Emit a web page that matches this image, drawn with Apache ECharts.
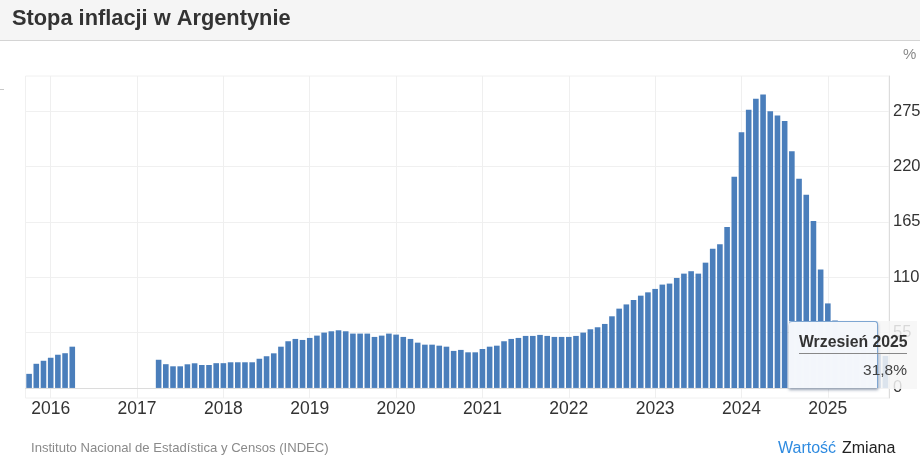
<!DOCTYPE html>
<html>
<head>
<meta charset="utf-8">
<title>Stopa inflacji w Argentynie</title>
<script src="https://cdn.jsdelivr.net/npm/echarts@6/dist/echarts.min.js"></script>
<style>
  html, body { margin: 0; padding: 0; background: #fff; }
  #main { width: 920px; height: 460px; }
</style>
</head>
<body>
<div id="main"></div>
<script>
var monthNames = ['Styczeń','Luty','Marzec','Kwiecień','Maj','Czerwiec','Lipiec','Sierpień','Wrzesień','Październik','Listopad','Grudzień'];
var yTicks = [0, 55, 110, 165, 220, 275];

// odczyt z wykresu, miesiecznie od 2015-10 do 2025-09 (null = brak danych)
var values2015 = [14, 24, 27];
var values2016 = [30, 33, 34.5, 41, null, null, null, null, null, null, null, null];
var values2017 = [null, null, null, 28, 23.6, 21.5, 21.5, 23.5, 24.5, 22.8, 22.8, 24.6];
var values2018 = [24.6, 25.5, 25.5, 25.5, 25.5, 29, 31.5, 34.4, 41, 46.4, 48.7, 47.7];
var values2019 = [49.7, 52, 55, 56.3, 57.3, 56.3, 54, 54, 54, 50.7, 52, 54];
var values2020 = [53, 50.7, 48.7, 45, 43, 43, 42, 41, 36.8, 37.8, 35.4, 35.4];
var values2021 = [38.7, 41, 42, 46.4, 48.7, 49.7, 51.7, 51.7, 52.7, 51.7, 50.7, 50.7];
var values2022 = [50.7, 51.7, 55, 58.3, 60.3, 63.6, 71.2, 78.8, 83, 87.4, 91.7, 95];
var values2023 = [98.4, 102.7, 103.7, 109.3, 113.6, 116, 113.6, 124.5, 138.4, 142.7, 160, 210];
var values2024 = [254, 276.5, 287.4, 291.5, 275, 270.7, 265.4, 235.3, 208, 192, 166, 117.7];
var values2025 = [84, 67, 56, 47, 43.5, 39, 36.6, 33.6, 31.8];

var values = [].concat(values2015, values2016, values2017, values2018, values2019,
  values2020, values2021, values2022, values2023, values2024, values2025);

var categories = [];
for (var i = 0; i < values.length; i++) {
  var m = 9 + i;
  var mm = m % 12 + 1;
  categories.push((2015 + Math.floor(m / 12)) + '-' + (mm < 10 ? '0' + mm : mm));
}

function isJanuary(idx) {
  return categories[idx].slice(5) === '01';
}

var chart = echarts.init(document.getElementById('main'));

var option = {
  animation: false,
  textStyle: { fontFamily: 'Liberation Sans, Arial, sans-serif' },
  title: [
    { text: 'Stopa inflacji w Argentynie', left: 12, top: 8, padding: 0, textStyle: { fontSize: 21.8, fontWeight: 'bold', color: '#333' } },
    { text: 'Instituto Nacional de Estadística y Censos (INDEC)', left: 31, top: 442, padding: 0, textStyle: { fontSize: 13.1, fontWeight: 'normal', color: '#8a8a8a' } },
    { text: '%', left: 903, top: 47, padding: 0, textStyle: { fontSize: 15, fontWeight: 'normal', color: '#8a8a8a' } }
  ],
  graphic: [
    { type: 'rect', z: -1, shape: { x: 0, y: 0, width: 920, height: 40 }, style: { fill: '#f5f5f5' } },
    { type: 'rect', z: -1, shape: { x: 0, y: 40, width: 920, height: 1 }, style: { fill: '#d4d4d4' } },
    { type: 'rect', z: -1, shape: { x: 0, y: 89, width: 4, height: 1 }, style: { fill: '#c8c8c8' } },
    { type: 'text', left: 778, top: 441, style: { text: 'Wartość', fill: '#2f8be0', fontSize: 16, fontFamily: 'Liberation Sans' } },
    { type: 'text', left: 842, top: 441, style: { text: 'Zmiana', fill: '#222', fontSize: 16, fontFamily: 'Liberation Sans' } }
  ],
  grid: {
    left: 25.5, right: 31, top: 76, bottom: 62,
    outerBoundsMode: 'none',
    show: true, borderColor: '#f0f0f0', borderWidth: 1
  },
  xAxis: {
    type: 'category',
    data: categories,
    boundaryGap: true,
    axisLine: { lineStyle: { color: '#dcdcdc' } },
    axisTick: { show: false },
    splitLine: {
      show: true,
      alignWithLabel: true,
      interval: function (idx) { return isJanuary(idx); },
      lineStyle: { color: '#efefef' }
    },
    axisLabel: {
      interval: function (idx) { return isJanuary(idx); },
      formatter: function (v) { return v.slice(0, 4); },
      color: '#333', fontSize: 17.5, margin: 2
    }
  },
  yAxis: {
    type: 'value',
    position: 'right',
    min: -10,
    max: 310,
    axisLine: { show: true, lineStyle: { color: '#dcdcdc' } },
    axisTick: { show: false, customValues: yTicks },
    splitLine: { show: true, lineStyle: { color: '#f0f0f0' } },
    axisLabel: { customValues: yTicks, color: '#333', fontSize: 16.5, margin: 4, padding: [0, 0, 2, 0] }
  },
  tooltip: {
    trigger: 'item',
    triggerOn: 'none',
    alwaysShowContent: true,
    transitionDuration: 0,
    padding: 0,
    borderWidth: 0,
    backgroundColor: 'transparent',
    extraCssText: 'box-shadow:none;border-radius:0;',
    position: [789, 321],
    formatter: function (p) {
      var parts = p.name.split('-');
      var label = monthNames[parseInt(parts[1], 10) - 1] + ' ' + parts[0];
      var val = String(p.value).replace('.', ',') + '%';
      return '<div style="position:relative;width:128px;height:68px;font-family:Liberation Sans,Arial,sans-serif;background:rgba(246,246,246,.85);">' +
        '<div style="position:absolute;left:0;top:0;width:88px;height:66px;background:rgba(244,247,251,.97);border-top:1px solid #7ea6d2;border-right:1px solid #7ea6d2;border-radius:3px 3px 0 0;box-shadow:0 2px 3px rgba(70,90,120,.55);"></div>' +
        '<div style="position:absolute;left:10px;top:11px;width:108px;font-size:15.8px;font-weight:bold;color:#333;line-height:20px;padding-bottom:1px;border-bottom:1px solid #888;white-space:nowrap;">' + label + '</div>' +
        '<div style="position:absolute;left:10px;top:39px;width:108px;text-align:right;font-size:15.5px;color:#444;line-height:20px;">' + val + '</div>' +
        '</div>';
    }
  },
  series: [{
    type: 'bar',
    data: values,
    barWidth: 5.6,
    itemStyle: { color: '#4a7ebb' }
  }]
};

chart.setOption(option);
chart.dispatchAction({ type: 'showTip', seriesIndex: 0, dataIndex: values.length - 1 });
</script>
</body>
</html>
